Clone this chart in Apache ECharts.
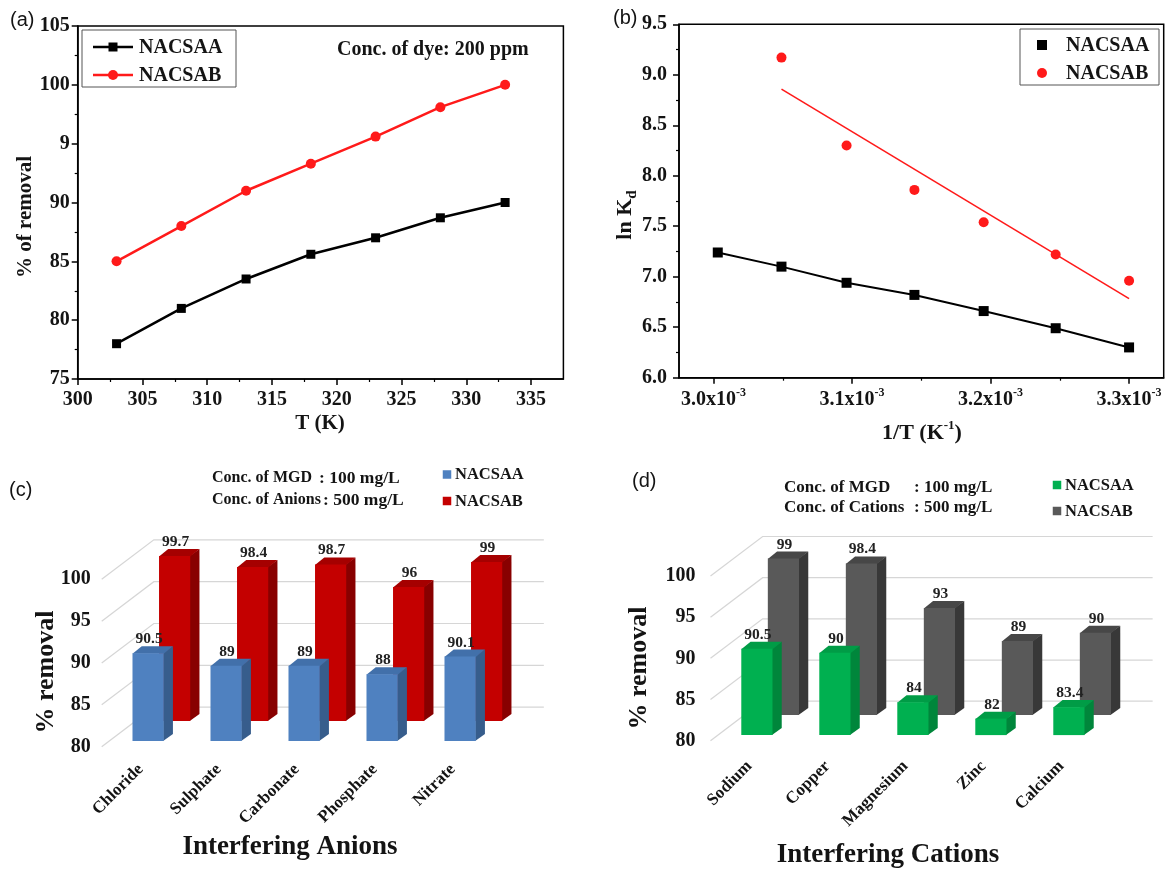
<!DOCTYPE html>
<html>
<head>
<meta charset="utf-8">
<title>Dye removal: temperature, van't Hoff and interfering ions</title>
<script src="https://cdn.jsdelivr.net/npm/echarts@6/dist/echarts.min.js"></script>
<style>
  html, body { margin: 0; padding: 0; background: #ffffff; }
  #chart { width: 1166px; height: 870px; }
</style>
</head>
<body>
<div id="chart"></div>
<script>
// ---------- (a) % removal vs temperature ----------
const tempK = [303, 308, 313, 318, 323, 328, 333];
const removalT_NACSAA = [78, 81, 83.5, 85.6, 87, 88.7, 90];
const removalT_NACSAB = [85, 88, 91, 93.3, 95.6, 98.1, 100];
const ticksA_x = [300, 305, 310, 315, 320, 325, 330, 335];
const minorA_x = [302.5, 307.5, 312.5, 317.5, 322.5, 327.5, 332.5];
const ticksA_y = [75, 80, 85, 90, 95, 100, 105];
const labelsA_y = ['75', '80', '85', '90', '9', '100', '105'];

// ---------- (b) ln Kd vs 1/T (1/T in units of 1e-3 K^-1) ----------
const invT_NACSAA = [3.003, 3.049, 3.096, 3.145, 3.195, 3.247, 3.300];
const lnKd_NACSAA = [7.24, 7.10, 6.94, 6.82, 6.66, 6.49, 6.30];
const invT_NACSAB = [3.049, 3.096, 3.145, 3.195, 3.247, 3.300];
const lnKd_NACSAB = [9.17, 8.30, 7.86, 7.54, 7.22, 6.96];
const ticksB_x = [3.0, 3.1, 3.2, 3.3];
const minorB_x = [3.05, 3.15, 3.25];

// ---------- (c) interfering anions ----------
const anions = ['Chloride', 'Sulphate', 'Carbonate', 'Phosphate', 'Nitrate'];
const anions_NACSAA = [90.5, 89, 89, 88, 90.1];
const anions_NACSAB = [99.7, 98.4, 98.7, 96, 99];

// ---------- (d) interfering cations ----------
const cations = ['Sodium', 'Copper', 'Magnesium', 'Zinc', 'Calcium'];
const cations_NACSAA = [90.5, 90, 84, 82, 83.4];
const cations_NACSAB = [99, 98.4, 93, 89, 90];

const ticksCD_y = [80, 85, 90, 95, 100];

// ---------- styling ----------
const SERIF = '"Liberation Serif", "Times New Roman", serif';
const SANS = '"Liberation Sans", Arial, sans-serif';
const INK = '#141414';
const RED = '#ff1a1a';

// pseudo-3D geometry for the column panels (pixels)
const SKEW = 1.32;          // horizontal shift per pixel of depth
const ROW_Z = [5.6, 25.7];  // depth of front row and back row
const BAR_DEPTH = 7;
const WALL_Z = 39.5;

function linearFit(xs, ys) {
  const n = xs.length;
  const mx = xs.reduce((a, b) => a + b, 0) / n;
  const my = ys.reduce((a, b) => a + b, 0) / n;
  let sxy = 0, sxx = 0;
  for (let i = 0; i < n; i++) {
    sxy += (xs[i] - mx) * (ys[i] - my);
    sxx += (xs[i] - mx) * (xs[i] - mx);
  }
  const slope = sxy / sxx;
  return { slope: slope, intercept: my - slope * mx };
}
const fitB = linearFit(invT_NACSAB, lnKd_NACSAB);
const fitXs = [Math.min.apply(null, invT_NACSAB), Math.max.apply(null, invT_NACSAB)];
const fitLine = fitXs.map(x => [x, fitB.intercept + fitB.slope * x]);

function zip(xs, ys) { return xs.map((x, i) => [x, ys[i]]); }

function wallRenderer(nCat) {
  return function (params, api) {
    const v = api.value(1);
    const band = api.size([1, 0])[0];
    const p0 = api.coord([0, v]);
    const pN = api.coord([nCat - 1, v]);
    const left = p0[0] - band / 2;
    const right = pN[0] + band / 2;
    const y = p0[1];
    const dx = SKEW * WALL_Z;
    return {
      type: 'polyline',
      shape: { points: [[left, y], [left + dx, y - WALL_Z], [right + dx, y - WALL_Z]] },
      style: { stroke: '#d6d6d6', lineWidth: 1.2, fill: null }
    };
  };
}

function prismRenderer(rowZ, base, face, side, top) {
  return function (params, api) {
    const i = api.value(0);
    const v = api.value(1);
    const band = api.size([1, 0])[0];
    const w = band * 0.4;
    const pBase = api.coord([i, base]);
    const pTop = api.coord([i, v]);
    const xl = pBase[0] - w / 2 + SKEW * rowZ;
    const xr = xl + w;
    const yb = pBase[1] - rowZ;
    const yt = pTop[1] - rowZ;
    const dx = SKEW * BAR_DEPTH;
    const dy = BAR_DEPTH;
    return {
      type: 'group',
      children: [
        { type: 'polygon', shape: { points: [[xr - 0.5, yt], [xr + dx, yt - dy], [xr + dx, yb - dy], [xr - 0.5, yb]] }, style: { fill: side } },
        { type: 'polygon', shape: { points: [[xl, yt + 0.5], [xl + dx, yt - dy], [xr + dx, yt - dy], [xr, yt + 0.5]] }, style: { fill: top } },
        { type: 'rect', shape: { x: xl, y: yt, width: w, height: yb - yt }, style: { fill: face } },
        {
          type: 'text', x: (xl + xr) / 2 + 1, y: yt - dy + 1,
          style: { text: String(v), align: 'center', verticalAlign: 'bottom',
                   fontSize: 15.5, fontWeight: 'bold', fontFamily: SERIF, fill: '#222' }
        }
      ]
    };
  };
}

// ---------- axes ----------
const frameLine = { lineStyle: { color: '#000', width: 1.5 } };
const tickLabel = { fontSize: 20, fontWeight: 'bold', fontFamily: SERIF, color: INK };

const xAxes = [
  { // (a) main
    gridIndex: 0, type: 'value', position: 'bottom', min: 300, max: 337.5,
    axisLine: frameLine,
    axisTick: { inside: false, length: 6, customValues: ticksA_x, lineStyle: { color: '#000', width: 1.5 } },
    axisLabel: Object.assign({ customValues: ticksA_x, margin: 11 }, tickLabel),
    splitLine: { show: false }
  },
  { // (a) minor ticks
    gridIndex: 0, type: 'value', position: 'bottom', min: 300, max: 337.5,
    axisLine: { show: false },
    axisTick: { inside: false, length: 3, customValues: minorA_x, lineStyle: { color: '#000', width: 1.2 } },
    axisLabel: { show: false }, splitLine: { show: false }
  },
  { // (b) main
    gridIndex: 1, type: 'value', position: 'bottom', min: 2.975, max: 3.325,
    axisLine: frameLine,
    axisTick: { inside: false, length: 6, customValues: ticksB_x, lineStyle: { color: '#000', width: 1.5 } },
    axisLabel: {
      customValues: ticksB_x, margin: 9,
      formatter: v => '{m|' + v.toFixed(1) + 'x10}{s|-3}',
      rich: {
        m: { fontSize: 20, fontWeight: 'bold', fontFamily: SERIF, color: INK, lineHeight: 26 },
        s: { fontSize: 12, fontWeight: 'bold', fontFamily: SERIF, color: INK, lineHeight: 12, verticalAlign: 'top' }
      }
    },
    splitLine: { show: false }
  },
  { // (b) minor ticks
    gridIndex: 1, type: 'value', position: 'bottom', min: 2.975, max: 3.325,
    axisLine: { show: false },
    axisTick: { inside: false, length: 3, customValues: minorB_x, lineStyle: { color: '#000', width: 1.2 } },
    axisLabel: { show: false }, splitLine: { show: false }
  },
  { // (c)
    gridIndex: 2, type: 'category', data: anions,
    axisLine: { show: false }, axisTick: { show: false },
    axisLabel: { rotate: 45, margin: 20, interval: 0, fontSize: 17, fontWeight: 'bold', fontFamily: SERIF, color: INK }
  },
  { // (d)
    gridIndex: 3, type: 'category', data: cations,
    axisLine: { show: false }, axisTick: { show: false },
    axisLabel: { rotate: 45, margin: 23, interval: 0, fontSize: 17, fontWeight: 'bold', fontFamily: SERIF, color: INK }
  }
];

const yAxes = [
  { // (a)
    gridIndex: 0, type: 'value', min: 75, max: 105, interval: 5,
    axisLine: frameLine,
    axisTick: { inside: false, length: 6, lineStyle: { color: '#000', width: 1.5 } },
    minorTick: { show: true, splitNumber: 2, length: 3, lineStyle: { color: '#000', width: 1.2 } },
    axisLabel: Object.assign({ margin: 8, formatter: v => { const k = ticksA_y.indexOf(v); return k >= 0 ? labelsA_y[k] : String(v); } }, tickLabel),
    splitLine: { show: false }
  },
  { // (b)
    gridIndex: 1, type: 'value', min: 6, max: 9.5, interval: 0.5,
    axisLine: frameLine,
    axisTick: { inside: false, length: 6, lineStyle: { color: '#000', width: 1.5 } },
    minorTick: { show: true, splitNumber: 2, length: 3, lineStyle: { color: '#000', width: 1.2 } },
    axisLabel: Object.assign({ margin: 12, formatter: v => v.toFixed(1) }, tickLabel),
    splitLine: { show: false }
  },
  { // (c)
    gridIndex: 2, type: 'value', min: ticksCD_y[0], max: ticksCD_y[ticksCD_y.length - 1], interval: 5,
    axisLine: { show: false }, axisTick: { show: false }, splitLine: { show: false },
    axisLabel: { margin: 11, fontSize: 20, fontWeight: 'bold', fontFamily: SERIF, color: INK }
  },
  { // (d)
    gridIndex: 3, type: 'value', min: ticksCD_y[0], max: ticksCD_y[ticksCD_y.length - 1], interval: 5,
    axisLine: { show: false }, axisTick: { show: false }, splitLine: { show: false },
    axisLabel: { margin: 15, fontSize: 20, fontWeight: 'bold', fontFamily: SERIF, color: INK }
  }
];

const base = ticksCD_y[0];

const series = [
  // (a)
  {
    name: 'NACSAA', type: 'line', xAxisIndex: 0, yAxisIndex: 0,
    data: zip(tempK, removalT_NACSAA),
    symbol: 'rect', symbolSize: 9,
    itemStyle: { color: '#000' }, lineStyle: { color: '#000', width: 2.5 }
  },
  {
    name: 'NACSAB', type: 'line', xAxisIndex: 0, yAxisIndex: 0,
    data: zip(tempK, removalT_NACSAB),
    symbol: 'circle', symbolSize: 10,
    itemStyle: { color: RED }, lineStyle: { color: RED, width: 2.5 }
  },
  // (b)
  {
    name: 'NACSAA', type: 'line', xAxisIndex: 2, yAxisIndex: 1,
    data: zip(invT_NACSAA, lnKd_NACSAA),
    symbol: 'rect', symbolSize: 10,
    itemStyle: { color: '#000' }, lineStyle: { color: '#000', width: 2 }
  },
  {
    name: 'NACSAB fit', type: 'line', xAxisIndex: 2, yAxisIndex: 1,
    data: fitLine, showSymbol: false, symbol: 'none',
    lineStyle: { color: RED, width: 1.6 }
  },
  {
    name: 'NACSAB', type: 'scatter', xAxisIndex: 2, yAxisIndex: 1,
    data: zip(invT_NACSAB, lnKd_NACSAB),
    symbol: 'circle', symbolSize: 10, itemStyle: { color: RED, opacity: 1 }
  },
  // (c)
  {
    type: 'custom', xAxisIndex: 4, yAxisIndex: 2, z: 1,
    data: ticksCD_y.map(v => [0, v]), encode: { x: 0, y: 1 },
    renderItem: wallRenderer(anions.length), silent: true
  },
  {
    name: 'NACSAB', type: 'custom', xAxisIndex: 4, yAxisIndex: 2, z: 2,
    data: zip(anions.map((c, i) => i), anions_NACSAB), encode: { x: 0, y: 1 },
    renderItem: prismRenderer(ROW_Z[1], base, '#c40000', '#880000', '#a50000')
  },
  {
    name: 'NACSAA', type: 'custom', xAxisIndex: 4, yAxisIndex: 2, z: 3,
    data: zip(anions.map((c, i) => i), anions_NACSAA), encode: { x: 0, y: 1 },
    renderItem: prismRenderer(ROW_Z[0], base, '#4f81c0', '#375d8c', '#4270aa')
  },
  // (d)
  {
    type: 'custom', xAxisIndex: 5, yAxisIndex: 3, z: 1,
    data: ticksCD_y.map(v => [0, v]), encode: { x: 0, y: 1 },
    renderItem: wallRenderer(cations.length), silent: true
  },
  {
    name: 'NACSAB', type: 'custom', xAxisIndex: 5, yAxisIndex: 3, z: 2,
    data: zip(cations.map((c, i) => i), cations_NACSAB), encode: { x: 0, y: 1 },
    renderItem: prismRenderer(ROW_Z[1], base, '#595959', '#383838', '#474747')
  },
  {
    name: 'NACSAA', type: 'custom', xAxisIndex: 5, yAxisIndex: 3, z: 3,
    data: zip(cations.map((c, i) => i), cations_NACSAA), encode: { x: 0, y: 1 },
    renderItem: prismRenderer(ROW_Z[0], base, '#00b050', '#00863b', '#009c46')
  }
];

// ---------- annotations, legends, titles ----------
function txt(x, y, text, size, opts) {
  opts = opts || {};
  return {
    type: 'text', x: x, y: y, rotation: opts.rotation || 0, z: 100,
    style: Object.assign({
      text: text, fontSize: size, fontWeight: opts.weight || 'bold',
      fontFamily: opts.family || SERIF, fill: INK,
      align: opts.align || 'left', verticalAlign: opts.valign || 'middle'
    }, opts.style || {})
  };
}
function box(x, y, w, h) {
  return { type: 'rect', z: 99, shape: { x: x, y: y, width: w, height: h }, style: { fill: '#fff', stroke: '#555', lineWidth: 1 } };
}
function square(cx, cy, s, color) {
  return { type: 'rect', z: 101, shape: { x: cx - s / 2, y: cy - s / 2, width: s, height: s }, style: { fill: color } };
}
function dot(cx, cy, r, color) {
  return { type: 'circle', z: 101, shape: { cx: cx, cy: cy, r: r }, style: { fill: color } };
}
function seg(x1, x2, y, color, w) {
  return { type: 'line', z: 100, shape: { x1: x1, y1: y, x2: x2, y2: y }, style: { stroke: color, lineWidth: w } };
}

const graphics = [
  // panel letters
  txt(10, 20, '(a)', 20, { weight: 'normal', family: SANS }),
  txt(613, 18, '(b)', 20, { weight: 'normal', family: SANS }),
  txt(9, 490, '(c)', 20, { weight: 'normal', family: SANS }),
  txt(632, 481, '(d)', 20, { weight: 'normal', family: SANS }),

  // (a) legend and note
  box(82, 30, 154, 57),
  seg(93, 133, 47, '#000', 2.5), square(113, 47, 9, '#000'),
  txt(139, 48, 'NACSAA', 20),
  seg(93, 133, 75, RED, 2.5), dot(113, 75, 5, RED),
  txt(139, 76, 'NACSAB', 20),
  txt(337, 50, 'Conc. of dye: 200 ppm', 20),
  // (a) axis titles
  txt(320, 424, 'T (K)', 21, { align: 'center' }),
  txt(26, 217, '% of removal', 21, { align: 'center', rotation: Math.PI / 2 }),

  // (b) legend
  box(1020, 29, 139, 56),
  square(1042, 45, 10, '#000'), txt(1066, 46, 'NACSAA', 20),
  dot(1042, 73, 5, RED), txt(1066, 74, 'NACSAB', 20),
  // (b) axis titles
  {
    type: 'text', x: 922, y: 433, z: 100,
    style: {
      text: '{m|1/T (K}{s|-1}{m|)}', align: 'center', verticalAlign: 'middle',
      rich: {
        m: { fontSize: 22, fontWeight: 'bold', fontFamily: SERIF, fill: INK, lineHeight: 28 },
        s: { fontSize: 13, fontWeight: 'bold', fontFamily: SERIF, fill: INK, lineHeight: 13, verticalAlign: 'top' }
      }
    }
  },
  {
    type: 'text', x: 625, y: 215, z: 100, rotation: Math.PI / 2,
    style: {
      text: '{m|ln K}{d|d}', align: 'center', verticalAlign: 'middle',
      rich: {
        m: { fontSize: 22, fontWeight: 'bold', fontFamily: SERIF, fill: INK, lineHeight: 30 },
        d: { fontSize: 15, fontWeight: 'bold', fontFamily: SERIF, fill: INK, lineHeight: 15, verticalAlign: 'bottom' }
      }
    }
  },

  // (c) notes and legend
  txt(212, 478, 'Conc. of MGD', 16), txt(319, 478, ': 100 mg/L', 17.5),
  txt(212, 500, 'Conc. of Anions', 16), txt(323, 500, ': 500 mg/L', 17.5),
  square(447, 474.5, 8.5, '#4f81c0'), txt(455, 475, 'NACSAA', 16.5),
  square(447, 501, 8.5, '#c40000'), txt(455, 502, 'NACSAB', 16.5),
  txt(290, 847, 'Interfering Anions', 27, { align: 'center' }),
  txt(46, 672, '% removal', 26, { align: 'center', rotation: Math.PI / 2 }),

  // (d) notes and legend
  txt(784, 488, 'Conc. of MGD', 17), txt(914, 488, ': 100 mg/L', 17),
  txt(784, 508, 'Conc. of Cations', 17), txt(914, 508, ': 500 mg/L', 17),
  square(1057, 485, 8.5, '#00b050'), txt(1065, 486, 'NACSAA', 16.5),
  square(1057, 511, 8.5, '#595959'), txt(1065, 512, 'NACSAB', 16.5),
  txt(888, 855, 'Interfering Cations', 27, { align: 'center' }),
  txt(639, 668, '% removal', 26, { align: 'center', rotation: Math.PI / 2 })
];

const chart = echarts.init(document.getElementById('chart'), null, { renderer: 'canvas' });
chart.setOption({
  backgroundColor: '#ffffff',
  animation: false,
  textStyle: { fontFamily: SERIF },
  grid: [
    { left: 77.7, top: 26, width: 485.7, height: 353, show: true, borderColor: '#000', borderWidth: 1.5, backgroundColor: 'transparent' },
    { left: 679, top: 24.3, width: 484.7, height: 353.4, show: true, borderColor: '#000', borderWidth: 1.5, backgroundColor: 'transparent' },
    { left: 101.7, top: 579.3, width: 390, height: 167.4 },
    { left: 710.5, top: 576, width: 390, height: 164.7 }
  ],
  xAxis: xAxes,
  yAxis: yAxes,
  series: series,
  graphic: graphics
});
</script>
</body>
</html>
